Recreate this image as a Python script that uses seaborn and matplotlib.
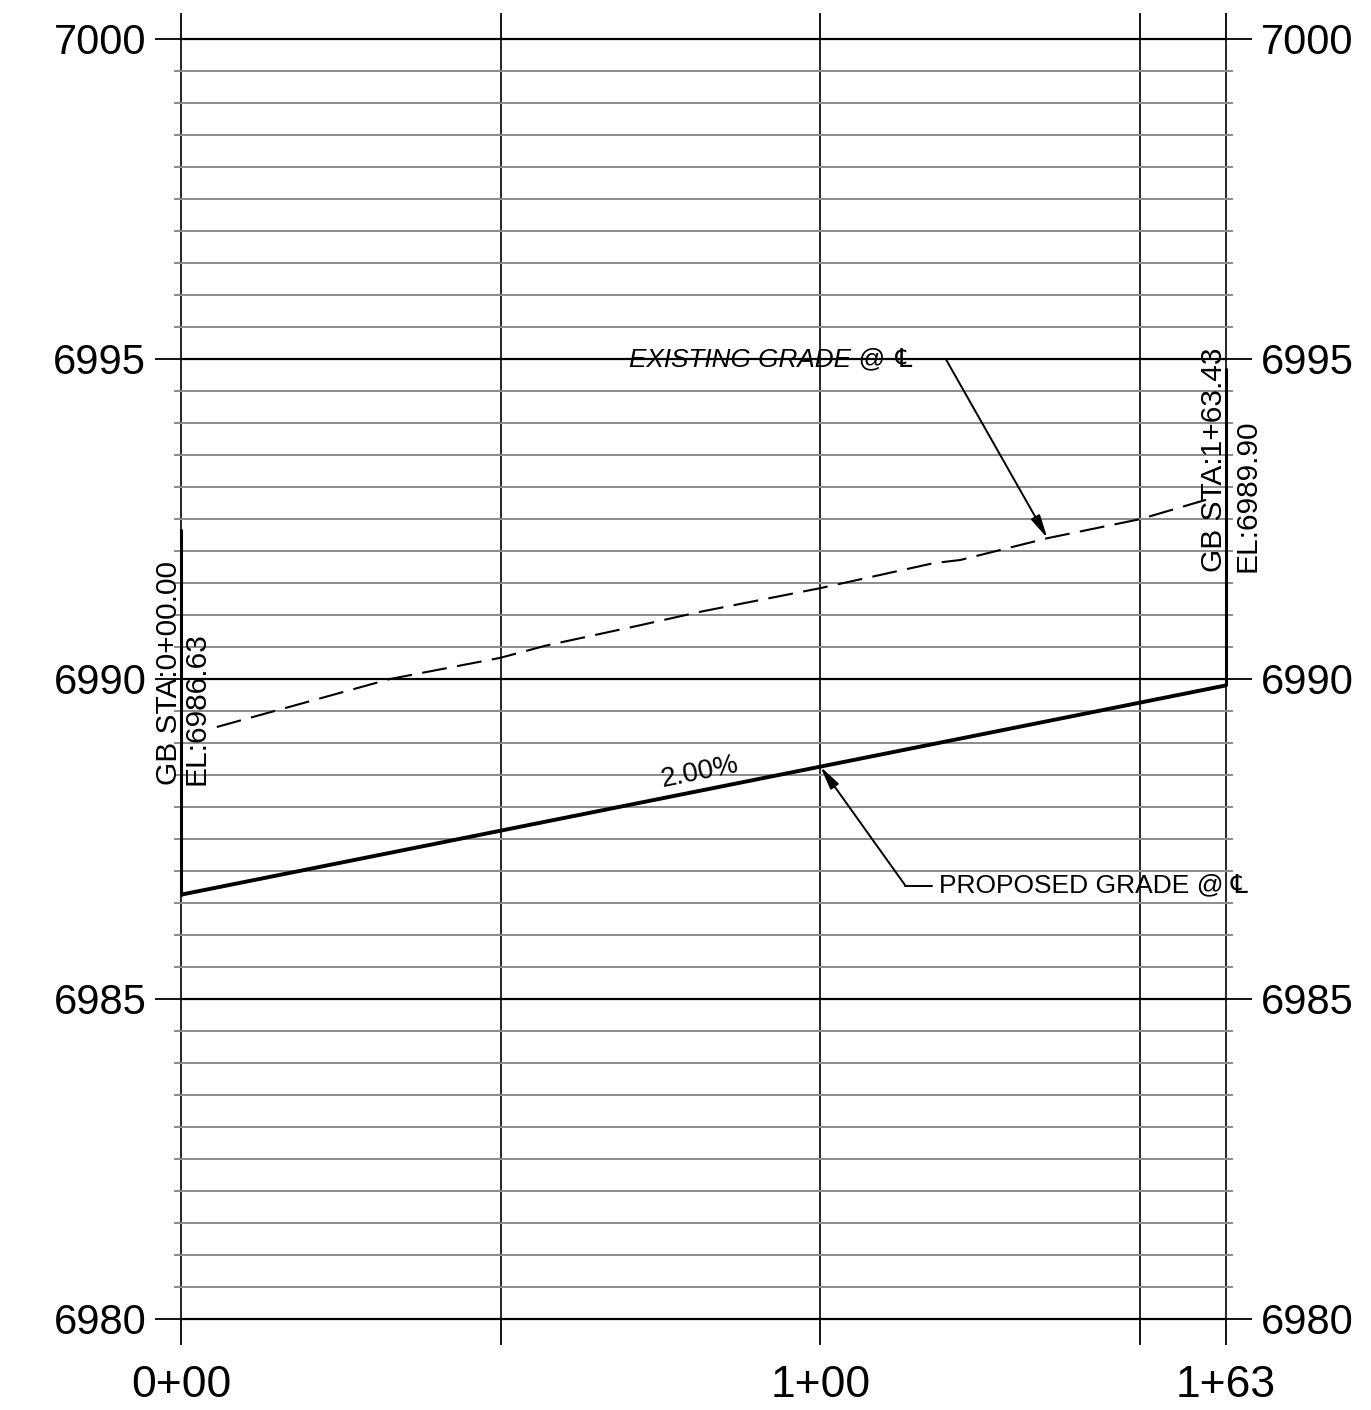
import numpy as np
import pandas as pd
import matplotlib
matplotlib.use("Agg")
import matplotlib.pyplot as plt
import seaborn as sns

# Profile data (station in ft, elevation in ft)
existing_sta = [5.6, 32.7, 49.9, 57.0, 71.8, 81.2, 100.0, 117.7, 121.9, 135.5, 150.1, 160.3]
existing_el = [6989.25, 6990.00, 6990.33, 6990.52, 6990.84, 6991.05, 6991.42,
               6991.81, 6991.86, 6992.20, 6992.50, 6992.80]
proposed_sta = [0.0, 163.43]
proposed_el = [6986.63, 6989.90]
gb_top_el = [6992.33, 6994.85]

x_ticks = [0, 50, 100, 150, 163.43]
x_labels = ["0+00", "", "1+00", "", "1+63"]
y_major = [6980, 6985, 6990, 6995, 7000]
y_minor = np.arange(6980, 7000.01, 0.5)

sns.set_style("white")
plt.rcParams["font.family"] = ["Liberation Sans", "DejaVu Sans"]
plt.rcParams["text.color"] = "black"
plt.rcParams["xtick.color"] = "black"
plt.rcParams["ytick.color"] = "black"

fig = plt.figure(figsize=(13.71, 14.10), dpi=100)
ax = fig.add_axes([181 / 1371, 1 - 1319 / 1410, 1045 / 1371, 1280 / 1410])

existing = pd.DataFrame({"sta": existing_sta, "el": existing_el})
proposed = pd.DataFrame({"sta": proposed_sta, "el": proposed_el})

sns.lineplot(data=existing, x="sta", y="el", ax=ax, color="black", lw=1.5,
             linestyle=(0, (12, 5)), zorder=4)
sns.lineplot(data=proposed, x="sta", y="el", ax=ax, color="black", lw=2.8, zorder=4)

# grade break verticals
ax.plot([proposed_sta[0]] * 2, [proposed_el[0], gb_top_el[0]], color="black",
        lw=2.2, zorder=4, clip_on=False)
ax.plot([proposed_sta[1]] * 2, [proposed_el[1], gb_top_el[1]], color="black",
        lw=2.2, zorder=4, clip_on=False)

ax.set_xlim(0, 163.43)
ax.set_ylim(6980, 7000)
ax.set_xlabel("")
ax.set_ylabel("")
sns.despine(ax=ax, left=True, bottom=True)

ax.set_xticks(x_ticks)
ax.set_xticklabels(x_labels)
ax.set_yticks(y_major)
ax.set_yticks(y_minor, minor=True)

ax.grid(which="major", axis="x", color="black", lw=1.2)
ax.grid(which="major", axis="y", color="black", lw=1.6)
ax.grid(which="minor", axis="y", color="#8c8c8c", lw=1.4)
ax.set_axisbelow(True)
for gl in ax.get_xgridlines() + ax.get_ygridlines():
    gl.set_clip_on(False)

ax.tick_params(axis="both", which="major", length=19, width=1.3, color="black",
               direction="out", labelsize=30, top=True, right=True, left=True,
               bottom=True, labelright=True)
ax.tick_params(axis="x", which="major", pad=14, labelsize=32)
ax.tick_params(axis="y", which="major", pad=6)
ax.tick_params(axis="y", which="minor", length=5, width=1.4, color="#8c8c8c",
               left=True, right=True)

# station / elevation labels
lab = dict(rotation=90, fontsize=21.5, ha="center", va="bottom")
ax.text(-1.8, 6988.34, "GB STA:0+00.00", **lab)
ax.text(2.5, 6988.34, "EL:6986.63", **lab)
ax.text(161.6, 6991.67, "GB STA:1+63.43", **lab)
ax.text(166.8, 6991.67, "EL:6989.90", **lab)

# slope label
ax.text(81.2, 6988.55, "2.00%", fontsize=20, rotation=11.5, ha="center",
        va="center", rotation_mode="anchor")

arrow = dict(arrowstyle="-|>,head_length=1.4,head_width=0.3", color="black",
             lw=1.4, shrinkA=0, shrinkB=0)

# existing grade callout
ax.text(70.0, 6995, "EXISTING GRADE @ \u2104", fontsize=18.8, style="italic",
        ha="left", va="center")
ax.plot([115.4, 119.6], [6995, 6995], color="black", lw=1.4)
ax.annotate("", xy=(135.5, 6992.2), xytext=(119.6, 6995), arrowprops=arrow)

# proposed grade callout
ax.text(118.5, 6986.77, "PROPOSED GRADE @ \u2104", fontsize=19,
        ha="left", va="center")
ax.plot([113.3, 117.4], [6986.77, 6986.77], color="black", lw=1.4)
ax.annotate("", xy=(100.0, 6988.63), xytext=(113.3, 6986.77), arrowprops=arrow)

fig.savefig("out.png", dpi=100)
